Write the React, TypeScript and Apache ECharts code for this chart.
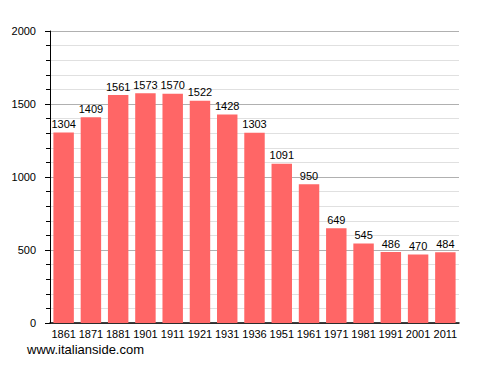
import React, { useEffect, useRef } from "react";
import * as echarts from "echarts";

const years = ["1861","1871","1881","1901","1911","1921","1931","1936","1951","1961","1971","1981","1991","2001","2011"];
const population = [1304,1409,1561,1573,1570,1522,1428,1303,1091,950,649,545,486,470,484];

const FONT = "Liberation Sans, Arial, sans-serif";

export default function App() {
  const ref = useRef<HTMLDivElement>(null);
  useEffect(() => {
    const chart = echarts.init(ref.current!, null, { renderer: "svg" });
    chart.setOption({
      animation: false,
      textStyle: { fontFamily: FONT },
      grid: { left: 50, right: 29, top: 31, bottom: 50 },
      xAxis: {
        type: "category",
        data: years,
        axisLine: { lineStyle: { color: "#000", width: 1.5 } },
        axisTick: { show: false },
        axisLabel: { color: "#000", fontSize: 11, margin: 5, interval: 0, fontFamily: FONT },
      },
      yAxis: {
        type: "value",
        min: 0,
        max: 2000,
        interval: 500,
        axisLine: { show: true, lineStyle: { color: "#000", width: 1 } },
        axisTick: { show: true, length: 5, lineStyle: { color: "#000" } },
        minorTick: { show: true, splitNumber: 5, length: 4, lineStyle: { color: "#000" } },
        splitLine: { lineStyle: { color: "#b0b0b0", width: 1 } },
        minorSplitLine: { show: true, lineStyle: { color: "#e0e0e0", width: 1 } },
        axisLabel: { color: "#000", fontSize: 11, margin: 14, fontFamily: FONT, formatter: (v: number) => String(v) },
      },
      series: [
        {
          type: "bar",
          data: population,
          barCategoryGap: "25%",
          itemStyle: { color: "#ff6666" },
          label: { show: true, position: "top", color: "#000", fontSize: 11, distance: 3, fontFamily: FONT },
        },
      ],
      graphic: [
        {
          type: "text",
          left: 27,
          top: 343,
          style: { text: "www.italianside.com", fill: "#000", fontSize: 13, fontFamily: FONT },
        },
      ],
    });
    return () => chart.dispose();
  }, []);
  return <div ref={ref} style={{ width: 488, height: 373, position: "absolute", left: 0, top: 0 }} />;
}
